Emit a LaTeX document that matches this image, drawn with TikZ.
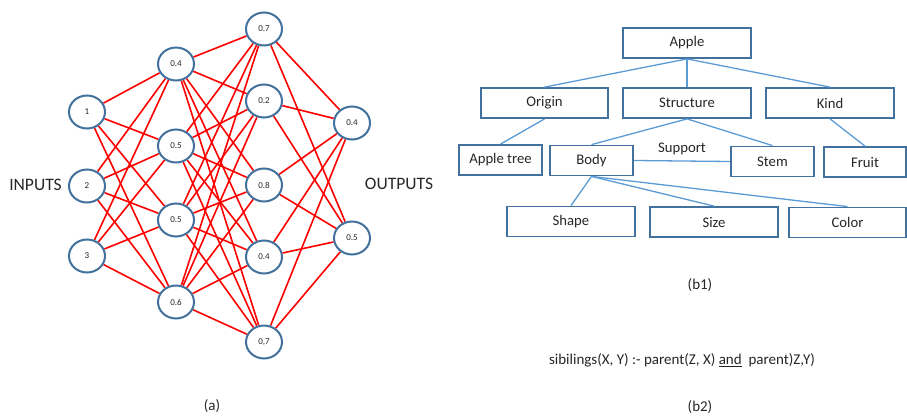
\documentclass[tikz,border=0pt]{standalone}
\usepackage{fontspec}
\setmainfont{Carlito}
\usetikzlibrary{shapes.geometric,backgrounds}
\definecolor{nodeblue}{HTML}{41719C}
\definecolor{linkblue}{HTML}{5B9BD5}
\definecolor{inkgray}{HTML}{262626}
\begin{document}
\begin{tikzpicture}[x=1pt,y=-1pt,
  neuron/.style={ellipse, draw=nodeblue, line width=2pt, fill=white, minimum width=36pt, minimum height=33pt, inner sep=0pt, text=inkgray, font=\fontsize{9}{10}\selectfont},
  wire/.style={draw=red, line width=1.6pt},
  box/.style={rectangle, draw=nodeblue, line width=1.8pt, minimum height=30pt, inner sep=0pt, text=inkgray, font=\fontsize{14.7}{16}\selectfont},
  link/.style={draw=linkblue, line width=1.3pt},
  lbl/.style={text=inkgray, inner sep=0pt, font=\fontsize{15}{17}\selectfont}]
\useasboundingbox (0,0) rectangle (907,415);

% ---------- neural network ----------
\node[neuron] (i1) at (87,112) {1};
\node[neuron] (i2) at (87,186) {2};
\node[neuron] (i3) at (87,256) {3};
\node[neuron] (a1) at (176,64) {0.4};
\node[neuron] (a2) at (176,146) {0.5};
\node[neuron] (a3) at (176,220) {0.5};
\node[neuron] (a4) at (176,302) {0.6};
\node[neuron] (b1) at (264,29) {0.7};
\node[neuron] (b2) at (264,101) {0.2};
\node[neuron] (b3) at (264,185) {0.8};
\node[neuron] (b4) at (264,257) {0.4};
\node[neuron] (b5) at (264,342) {0,7};
\node[neuron] (o1) at (352,123) {0.4};
\node[neuron] (o2) at (352,238) {0.5};

\begin{pgfonlayer}{background}
\foreach \i in {i1,i2,i3}{\foreach \j in {a1,a2,a3,a4}{\draw[wire] (\i) -- (\j);}}
\foreach \i in {a1,a2,a3,a4}{\foreach \j in {b1,b2,b3,b4,b5}{\draw[wire] (\i) -- (\j);}}
\foreach \i in {b1,b2,b3,b4,b5}{\foreach \j in {o1,o2}{\draw[wire] (\i) -- (\j);}}
\end{pgfonlayer}

\node[lbl, font=\fontsize{17.5}{19}\selectfont] (inl) at (35.5,185) {INPUTS};
\node[lbl, font=\fontsize{17.5}{19}\selectfont] (outl) at (399,184) {OUTPUTS};
\node[lbl] (capa) at (212,406) {(a)};

% ---------- tree ----------
\node[box, minimum width=128pt] (apple) at (687,43) {Apple};
\node[box, minimum width=127pt] (origin) at (544.5,103) {Origin};
\node[box, minimum width=128pt] (struct) at (687,103) {Structure};
\node[box, minimum width=128pt] (kind) at (830,103) {Kind};
\node[box, minimum width=83pt] (atree) at (500.5,160) {Apple tree};
\node[box, minimum width=83pt] (body) at (591.5,160.5) {Body};
\node[box, minimum width=83pt] (stem) at (772.5,161.5) {Stem};
\node[box, minimum width=82pt] (fruit) at (865,162) {Fruit};
\node[box, minimum width=128pt] (shape) at (571,221.5) {Shape};
\node[box, minimum width=128pt] (size) at (714,222) {Size};
\node[box, minimum width=117pt] (color) at (847.5,222.5) {Color};

\draw[link] (apple.south) -- (origin.north);
\draw[link] (apple.south) -- (struct.north);
\draw[link] (apple.south) -- (kind.north);
\draw[link] (origin.south) -- (atree.north);
\draw[link] (struct.south) -- (body.north);
\draw[link] (struct.south) -- (stem.north);
\draw[link] (kind.south) -- (fruit.north);
\draw[link] (body.south) -- (shape.north);
\draw[link] (body.south) -- (size.north);
\draw[link] (body.south) -- (color.north);
\draw[link] (body.east) -- node[lbl, above=5pt, font=\fontsize{14.7}{16}\selectfont] (sup) {Support} (stem.west);

\node[lbl] (capb1) at (700,285) {(b1)};
\node[lbl] (rule) at (682,360) {sibilings(X, Y) :- parent(Z, X) \underline{and}\ \ parent)Z,Y)};
\node[lbl] (capb2) at (700,407) {(b2)};
\end{tikzpicture}
\end{document}
